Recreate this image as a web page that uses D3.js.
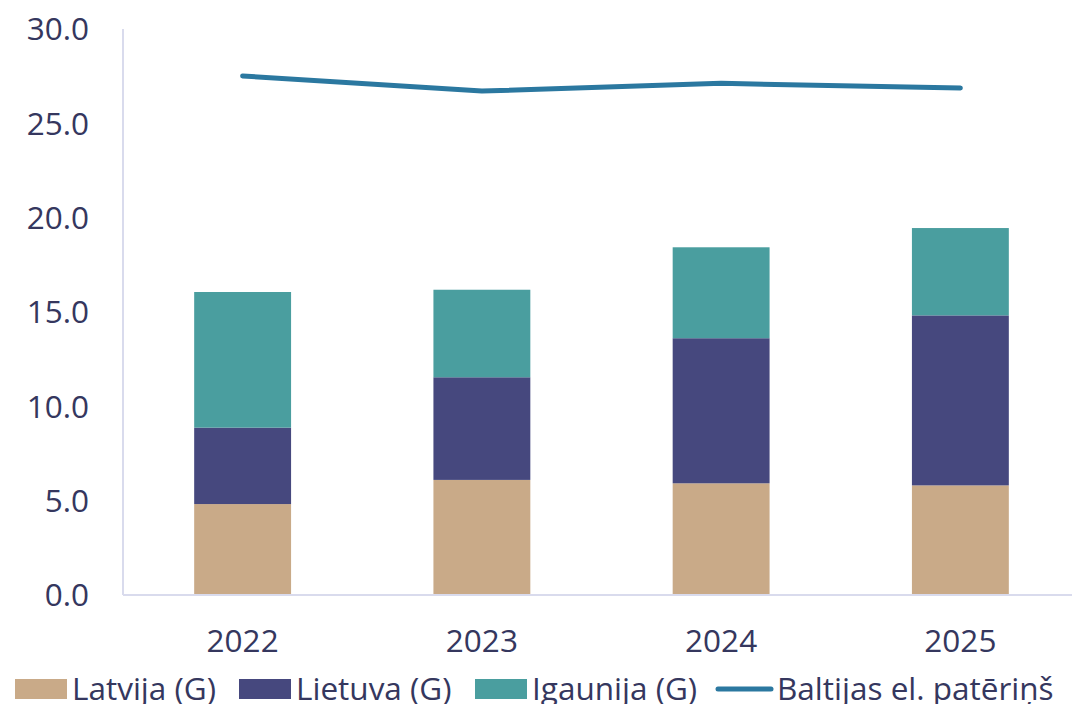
<!DOCTYPE html>
<html>
<head>
<meta charset="utf-8">
<script src="https://cdn.jsdelivr.net/npm/d3@7"></script>
<style>
  body { margin: 0; background: #fff; }
  svg text { font-family: "Open Sans", sans-serif; fill: #35375e; }
</style>
</head>
<body>
<svg id="chart" width="1074" height="704"></svg>
<script>
const years = ['2022', '2023', '2024', '2025'];
const latvija = [4.82, 6.10, 5.92, 5.81];
const lietuva = [4.05, 5.44, 7.69, 9.01];
const igaunija = [7.19, 4.64, 4.82, 4.63];
const baltijas = [27.51, 26.71, 27.12, 26.87];
const yTicks = [0, 5, 10, 15, 20, 25, 30];

const seriesNames = ['Latvija (G)', 'Lietuva (G)', 'Igaunija (G)'];
const seriesColors = ['#c9aa88', '#46487e', '#4a9e9f'];
const lineName = 'Baltijas el. patēriņš';
const lineColor = '#2b78a0';

var svg = d3.select('#chart');
var plotLeft = 123, plotRight = 1080, plotTop = 29, plotBottom = 595;
var fontSize = '31.5px';

var xs = d3.scaleBand().domain(years).range([plotLeft, plotRight]).paddingInner(0.595).paddingOuter(0.2975);
var ys = d3.scaleLinear().domain([0, 30]).range([plotBottom, plotTop]);

// stacked data
var rows = years.map(function (y, i) {
    return {year: y, l0: latvija[i], l1: lietuva[i], l2: igaunija[i]};
});
var stacked = d3.stack().keys(['l0', 'l1', 'l2'])(rows);

svg.append('g').selectAll('g').data(stacked).enter().append('g')
    .attr('fill', function (d, i) { return seriesColors[i]; })
    .selectAll('rect').data(function (d) { return d; }).enter().append('rect')
    .attr('x', function (d) { return xs(d.data.year); })
    .attr('width', xs.bandwidth())
    .attr('y', function (d) { return ys(d[1]); })
    .attr('height', function (d) { return ys(d[0]) - ys(d[1]); });

// axes lines
svg.append('line').attr('x1', plotLeft).attr('x2', plotLeft).attr('y1', plotTop).attr('y2', plotBottom)
    .attr('stroke', '#d9dbed').attr('stroke-width', 2);
svg.append('line').attr('x1', plotLeft).attr('x2', 1072).attr('y1', plotBottom).attr('y2', plotBottom)
    .attr('stroke', '#d9dbed').attr('stroke-width', 2);

// y tick labels
svg.append('g').selectAll('text').data(yTicks).enter().append('text')
    .attr('x', 89)
    .attr('y', function (d) { return ys(d); })
    .attr('dy', '0.36em')
    .attr('text-anchor', 'end')
    .style('font-size', fontSize)
    .text(function (d) { return d3.format('.1f')(d); });

// x labels
svg.append('g').selectAll('text').data(years).enter().append('text')
    .attr('x', function (d) { return xs(d) + xs.bandwidth() / 2; })
    .attr('y', 652)
    .attr('text-anchor', 'middle')
    .style('font-size', fontSize)
    .text(function (d) { return d; });

// line
var line = d3.line()
    .x(function (d, i) { return xs(years[i]) + xs.bandwidth() / 2; })
    .y(function (d) { return ys(d); });
svg.append('path').datum(baltijas)
    .attr('d', line)
    .attr('fill', 'none')
    .attr('stroke', lineColor)
    .attr('stroke-width', 5)
    .attr('stroke-linecap', 'round')
    .attr('stroke-linejoin', 'round');

// legend
var legX = [15, 239, 475];
var leg = svg.append('g');
seriesNames.forEach(function (name, i) {
    leg.append('rect').attr('x', legX[i]).attr('y', 679).attr('width', 52).attr('height', 20)
        .attr('fill', seriesColors[i]);
    leg.append('text').attr('x', legX[i] + 57).attr('y', 700)
        .style('font-size', fontSize).text(name);
});
leg.append('line').attr('x1', 718).attr('x2', 771).attr('y1', 689).attr('y2', 689)
    .attr('stroke', lineColor).attr('stroke-width', 5).attr('stroke-linecap', 'round');
leg.append('text').attr('x', 777).attr('y', 700).style('font-size', fontSize).text(lineName);
</script>
</body>
</html>
